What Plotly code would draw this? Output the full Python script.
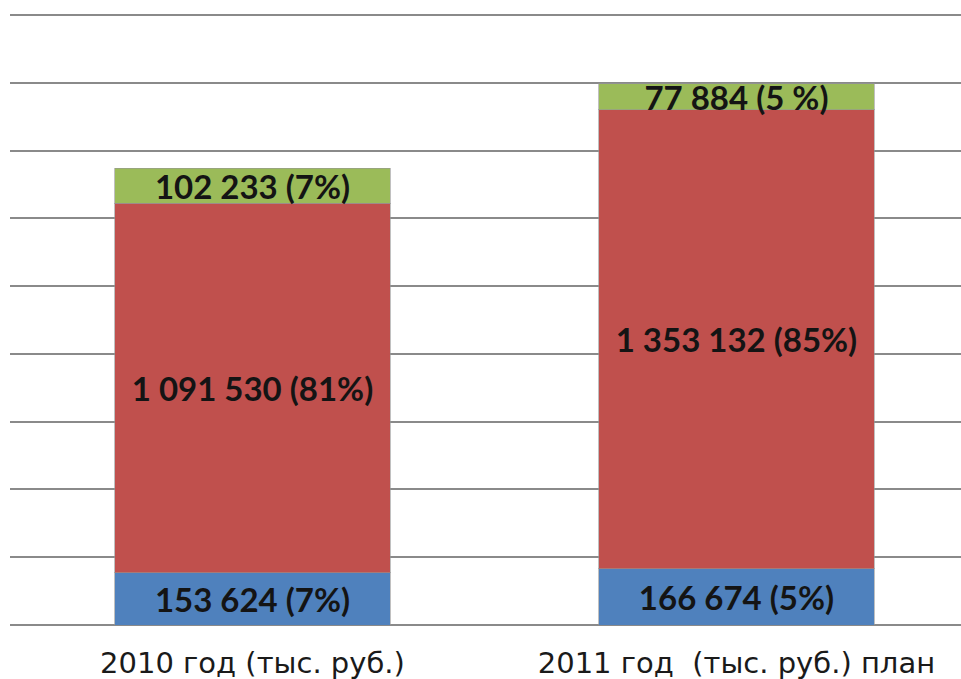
import plotly.graph_objects as go

categories = ["2010 год (тыс. руб.)", "2011 год  (тыс. руб.) план"]
blue_values = [153624, 166674]
red_values = [1091530, 1353132]
green_values = [102233, 77884]
blue_labels = ["153 624 (7%)", "166 674 (5%)"]
red_labels = ["1 091 530 (81%)", "1 353 132 (85%)"]
green_labels = ["102 233 (7%)", "77 884 (5 %)"]

colors = ["#4F81BD", "#C0504D", "#9BBB59"]
series = [(blue_values, blue_labels), (red_values, red_labels), (green_values, green_labels)]

fig = go.Figure()
for (vals, labels), c in zip(series, colors):
    fig.add_trace(go.Bar(
        x=categories, y=vals, text=labels,
        textposition="inside", insidetextanchor="middle", textangle=0,
        constraintext="none",
        textfont=dict(family="Lato", size=33, color="#141414", weight="bold"),
        marker=dict(color=c, line=dict(color="rgba(150,150,150,0.6)", width=1)),
        width=0.57, hoverinfo="skip",
    ))

fig.update_layout(
    barmode="stack",
    width=961, height=679,
    margin=dict(l=10, r=0, t=14, b=54),
    paper_bgcolor="white", plot_bgcolor="white",
    showlegend=False,
    xaxis=dict(type="category", range=[-0.501, 1.464], showgrid=False,
               showline=False, ticks="", ticklabelstandoff=18,
               tickfont=dict(family="DejaVu Sans", size=29, color="#1a1a1a")),
    yaxis=dict(range=[0, 1803000], dtick=200000, showticklabels=False,
               showgrid=True, gridcolor="#8a8a8a", gridwidth=2,
               zeroline=True, zerolinecolor="#8a8a8a", zerolinewidth=2,
               showline=False),
)

fig.write_html("out.html", config={"displayModeBar": False},
               post_script="document.body.style.margin='0';")
